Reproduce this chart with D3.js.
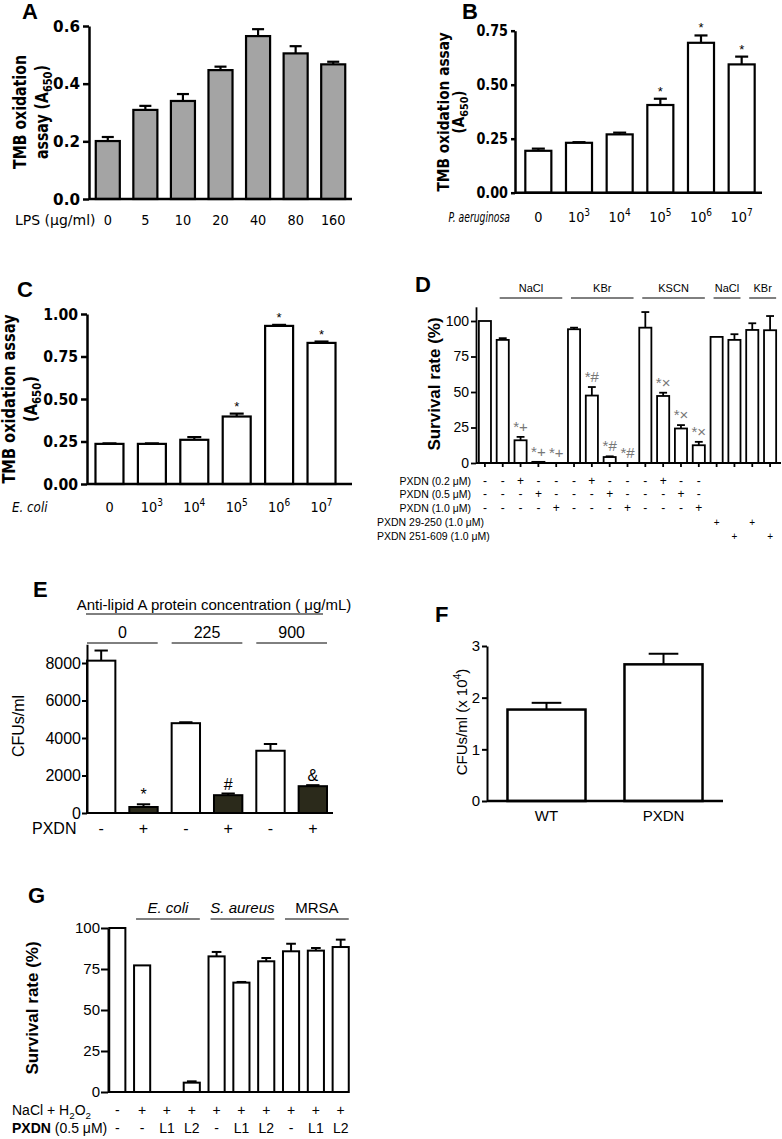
<!DOCTYPE html>
<html><head><meta charset="utf-8">
<script src="https://cdn.jsdelivr.net/npm/d3@7"></script>
<style>body{margin:0;background:#fff}svg{display:block}</style>
</head><body>
<svg id="fig" width="782" height="1139"></svg>
<script>
// ---------------- DATA ----------------
// Panel A
const catsA = ["0","5","10","20","40","80","160"];
const valsA = [0.201,0.309,0.340,0.447,0.565,0.505,0.467];
const errsA = [0.014,0.014,0.024,0.012,0.024,0.025,0.009];
const ticksA = [0,0.2,0.4,0.6];
// Panel B
const catsB = ["0","3","4","5","6","7"]; // exponents (0 = none)
const valsB = [0.194,0.231,0.270,0.406,0.694,0.594];
const errsB = [0.010,0.003,0.008,0.029,0.034,0.036];
const starsB = ["","","","*","*","*"];
const ticksB = [0,0.25,0.5,0.75];
// Panel C
const catsC = ["0","3","4","5","6","7"];
const valsC = [0.236,0.236,0.260,0.397,0.930,0.830];
const errsC = [0.003,0.003,0.016,0.017,0.006,0.008];
const starsC = ["","","","*","*","*"];
const ticksC = [0,0.25,0.5,0.75,1.0];
// Panel D
const catsD = ["Ctrl","NaCl","NaCl+P0.2","NaCl+P0.5","NaCl+P1.0","KBr","KBr+P0.2","KBr+P0.5","KBr+P1.0",
  "KSCN","KSCN+P0.2","KSCN+P0.5","KSCN+P1.0","NaCl+P29","NaCl+P251","KBr+P29","KBr+P251"];
const valsD = [100,86.7,16,0.8,0,94.2,47.5,4.2,0,95.3,47.2,24.3,12.5,88.8,86.7,93.7,93.5];
const errsD = [0,1.2,2.4,0,0,1.1,6.0,0.5,0,11,2.3,2.4,2.4,0,4,4.7,10];
const notesD = ["","","*+","*+","*+","","*#","*#","*#","","*×","*×","*×","","","",""];
const ticksD = [0,25,50,75,100];
const saltsD = [{label:"NaCl",from:1,to:4},{label:"KBr",from:5,to:8},{label:"KSCN",from:9,to:12},{label:"NaCl",from:13,to:14},{label:"KBr",from:15,to:16}];
const rowLabelsD = ["PXDN (0.2 μM)","PXDN (0.5 μM)","PXDN (1.0 μM)","PXDN 29-250 (1.0 μM)","PXDN 251-609 (1.0 μM)"];
const rowsD = [
  ["-","-","+","-","-","-","+","-","-","-","+","-","-","","","",""],
  ["-","-","-","+","-","-","-","+","-","-","-","+","-","","","",""],
  ["-","-","-","-","+","-","-","-","+","-","-","-","+","","","",""],
  ["","","","","","","","","","","","","","+","","+",""],
  ["","","","","","","","","","","","","","","+","","+"]
];
// Panel E
const catsE = ["0 -","0 +","225 -","225 +","900 -","900 +"];
const pxdnE = ["-","+","-","+","-","+"];
const valsE = [8125,320,4790,950,3320,1430];
const errsE = [540,145,50,90,360,55];
const notesE = ["","*","","#","","&"];
const concE = ["0","225","900"];
const ticksE = [0,2000,4000,6000,8000];
// Panel F
const catsF = ["WT","PXDN"];
const valsF = [1.77,2.645];
const errsF = [0.13,0.205];
const ticksF = [0,1,2,3];
// Panel G
const catsG = ["ctrl","Ec-","EcL1","EcL2","Sa-","SaL1","SaL2","MR-","MRL1","MRL2"];
const valsG = [100,77.2,0,5.7,82.7,66.7,79.7,85.8,86.2,88.4];
const errsG = [0,0,0,0.8,2.7,0.4,2,4.6,1.6,4.5];
const naclG = ["-","+","+","+","+","+","+","+","+","+"];
const pxdnG = ["-","-","L1","L2","-","L1","L2","-","L1","L2"];
const groupsG = [{label:"E. coli",from:1,to:3,italic:true},{label:"S. aureus",from:4,to:6,italic:true},{label:"MRSA",from:7,to:9,italic:false}];
const ticksG = [0,25,50,75,100];

// ---------------- HELPERS ----------------
const VERD = "'DejaVu Sans', Verdana, sans-serif";
const ARIAL = "'Liberation Sans', Arial, sans-serif";
const svg = d3.select("#fig");

function txt(g, x, y, parts, o={}) {
  const t = g.append("text")
    .attr("transform", `translate(${x},${y})` + (o.rot ? ` rotate(${o.rot})` : "") + (o.sx && o.sx !== 1 ? ` scale(${o.sx},1)` : ""))
    .attr("text-anchor", o.anchor || "middle")
    .attr("font-family", o.family || ARIAL)
    .attr("font-size", o.size || 14)
    .attr("font-weight", o.weight || "normal")
    .attr("font-style", o.style || "normal")
    .attr("fill", o.fill || "#000");
  if (typeof parts === "string") parts = [{t: parts}];
  parts.forEach(p => {
    const s = t.append("tspan").text(p.t);
    if (p.sup) s.attr("font-size", (o.size||14)*0.7).attr("dy", -(o.size||14)*0.4);
    if (p.sub) s.attr("font-size", (o.size||14)*0.7).attr("dy", (o.size||14)*0.25);
    if (p.back) s.attr("dy", p.back);
    if (p.weight) s.attr("font-weight", p.weight);
    if (p.style) s.attr("font-style", p.style);
  });
  return t;
}
function line(g, x1, y1, x2, y2, w=1, c="#000") {
  g.append("line").attr("x1",x1).attr("y1",y1).attr("x2",x2).attr("y2",y2).attr("stroke",c).attr("stroke-width",w);
}
function yAxis(g, y, o) {
  const pad = o.pad == null ? 3 : o.pad;
  const ax = g.append("g").attr("transform", `translate(${o.x},0)`)
    .call(d3.axisLeft(y).tickValues(o.ticks).tickFormat(o.fmt).tickSize(o.tickLen).tickSizeOuter(0).tickPadding(pad));
  ax.select(".domain").attr("stroke", "#000").attr("stroke-width", o.sw);
  ax.selectAll(".tick line").attr("stroke", "#000").attr("stroke-width", o.sw);
  ax.selectAll(".tick text").attr("font-family", o.font).attr("font-size", o.size)
    .attr("font-weight", o.weight || "normal").attr("fill", "#000")
    .attr("x", null).attr("transform", `translate(${-(o.tickLen + pad)},0) scale(${o.sx || 1},1)`);
  return ax;
}
function bars(g, x, y, cats, vals, errs, o) {
  const bw = x.bandwidth();
  g.append("g").selectAll("rect").data(vals).join("rect")
    .attr("x", (d,i) => x(cats[i])).attr("width", bw)
    .attr("y", d => y(d)).attr("height", d => y(0) - y(d))
    .attr("fill", (d,i) => typeof o.fill === "function" ? o.fill(i) : o.fill)
    .attr("stroke", "#000").attr("stroke-width", o.sw);
  vals.forEach((v,i) => {
    const e = errs[i]; if (!e) return;
    const cx = x(cats[i]) + bw/2, cw = bw * o.cap / 2;
    line(g, cx, y(v), cx, y(v+e), o.esw || o.sw);
    line(g, cx - cw, y(v+e), cx + cw, y(v+e), o.esw || o.sw);
  });
}
const cx = (x, c) => x(c) + x.bandwidth()/2;

// ---------------- PANEL A ----------------
{
  const g = svg.append("g");
  const x = d3.scaleBand(catsA, [89, 352]).paddingInner(0.36).paddingOuter(0.18);
  const y = d3.scaleLinear([0, 0.6], [199, 26]);
  bars(g, x, y, catsA, valsA, errsA, {fill:"#a4a4a4", sw:2.2, cap:0.5});
  yAxis(g, y, {x:89, ticks:ticksA, fmt:d3.format(".1f"), tickLen:6, sw:2.5, font:VERD, size:16, weight:"bold", sx:0.95});
  line(g, 89, y(0), 352, y(0), 2.5);
  txt(g, 22, 19, "A", {anchor:"start", size:22, weight:"bold"});
  txt(g, 26, 112, "TMB oxidation", {rot:-90, size:17, weight:"bold", family:VERD, sx:0.83});
  txt(g, 48, 112, [{t:"assay (A"},{t:"650",sub:true},{t:")",back:-17*0.25}], {rot:-90, size:17, weight:"bold", family:VERD, sx:0.83});
  txt(g, 15, 225, "LPS (μg/ml)", {anchor:"start", size:14, family:VERD});
  catsA.forEach(c => txt(g, cx(x,c), 225, c, {size:14, family:VERD, sx:0.92}));
}

// ---------------- PANEL B ----------------
{
  const g = svg.append("g");
  const x = d3.scaleBand(catsB, [518, 762]).paddingInner(0.36).paddingOuter(0.18);
  const y = d3.scaleLinear([0, 0.75], [192.7, 30.7]);
  bars(g, x, y, catsB, valsB, errsB, {fill:"#fff", sw:2.2, cap:0.5});
  yAxis(g, y, {x:515, ticks:ticksB, fmt:d3.format(".2f"), tickLen:4, sw:2.5, font:VERD, size:16, weight:"bold", sx:0.8});
  line(g, 515, y(0), 762, y(0), 2.5);
  starsB.forEach((s,i) => { if (s) txt(g, cx(x,catsB[i]), y(valsB[i]+errsB[i]) - 3, s, {size:13}); });
  txt(g, 462, 19, "B", {anchor:"start", size:22, weight:"bold"});
  txt(g, 449, 112, "TMB oxidation assay", {rot:-90, size:16, weight:"bold", family:VERD, sx:0.86});
  txt(g, 464, 112, [{t:"(A"},{t:"650",sub:true},{t:")",back:-16*0.25}], {rot:-90, size:16, weight:"bold", family:VERD, sx:0.86});
  txt(g, 510, 222, "P. aeruginosa", {anchor:"end", size:14, family:VERD, style:"italic", sx:0.66});
  catsB.forEach(c => txt(g, cx(x,c), 222, c === "0" ? "0" : [{t:"10"},{t:c,sup:true}], {size:14, family:VERD, sx:0.92}));
}

// ---------------- PANEL C ----------------
{
  const g = svg.append("g");
  const x = d3.scaleBand(catsC, [87, 344]).paddingInner(0.34).paddingOuter(0.2);
  const y = d3.scaleLinear([0, 1], [484, 314]);
  bars(g, x, y, catsC, valsC, errsC, {fill:"#fff", sw:2.2, cap:0.5});
  yAxis(g, y, {x:87, ticks:ticksC, fmt:d3.format(".2f"), tickLen:6, sw:2.5, font:VERD, size:16, weight:"bold", sx:0.88});
  line(g, 87, y(0), 352, y(0), 2.5);
  starsC.forEach((s,i) => { if (s) txt(g, cx(x,catsC[i]), y(valsC[i]+errsC[i]) - 3, s, {size:13}); });
  txt(g, 17, 297, "C", {anchor:"start", size:22, weight:"bold"});
  txt(g, 15, 399, "TMB oxidation assay", {rot:-90, size:17, weight:"bold", family:VERD, sx:0.86});
  txt(g, 37, 399, [{t:"(A"},{t:"650",sub:true},{t:")",back:-17*0.25}], {rot:-90, size:17, weight:"bold", family:VERD, sx:0.86});
  txt(g, 12, 512, "E. coli", {anchor:"start", size:14, family:VERD, style:"italic", sx:0.85});
  catsC.forEach(c => txt(g, cx(x,c), 512, c === "0" ? "0" : [{t:"10"},{t:c,sup:true}], {size:14, family:VERD, sx:0.92}));
}

// ---------------- PANEL D ----------------
{
  const g = svg.append("g");
  const x = d3.scaleBand(catsD, [476, 779]).paddingInner(0.32).paddingOuter(0.16);
  const y = d3.scaleLinear([0, 110], [463, 306.8]);
  bars(g, x, y, catsD, valsD, errsD, {fill:"#fff", sw:1.8, cap:0.65});
  yAxis(g, y, {x:476, ticks:ticksD, fmt:d3.format("d"), tickLen:5, sw:1.8, font:ARIAL, size:14, pad:2});
  const xa = g.append("g").attr("transform", `translate(0,${y(0)})`)
    .call(d3.axisBottom(x).tickSize(4).tickFormat(""));
  xa.select(".domain").remove();
  xa.selectAll(".tick line").attr("stroke","#000").attr("stroke-width",1.8);
  line(g, 476, y(0), 781, y(0), 1.8);
  notesD.forEach((s,i) => { if (s) txt(g, cx(x,catsD[i]), y(valsD[i]+errsD[i]) - 5, s, {size:15, fill:"#777"}); });
  txt(g, 415, 292, "D", {anchor:"start", size:22, weight:"bold"});
  txt(g, 440, 384, "Survival rate (%)", {rot:-90, size:17, weight:"bold"});
  saltsD.forEach(s => {
    const a = x(catsD[s.from]) + 3, b = x(catsD[s.to]) + x.bandwidth();
    txt(g, (a+b)/2, 292, s.label, {size:11});
    line(g, a, 298, b, 298, 1);
  });
  const rowY = [485, 498, 512, 526, 540];
  rowLabelsD.forEach((l,r) => {
    if (r < 3) txt(g, 471, rowY[r], l, {anchor:"end", size:10.5});
    else txt(g, 377, rowY[r], l, {anchor:"start", size:10.5});
    rowsD[r].forEach((s,i) => { if (s) txt(g, cx(x,catsD[i]), rowY[r], s, {size: r < 3 ? 12 : 10}); });
  });
}

// ---------------- PANEL E ----------------
{
  const g = svg.append("g");
  const x = d3.scaleBand(catsE, [87, 327]).paddingInner(0.33).paddingOuter(0);
  const y = d3.scaleLinear([0, 9000], [813, 644.25]);
  bars(g, x, y, catsE, valsE, errsE, {fill: i => i % 2 ? "#2b2a1b" : "#fff", sw:2, cap:0.47});
  yAxis(g, y, {x:87, ticks:ticksE, fmt:d3.format("d"), tickLen:5, sw:2, font:ARIAL, size:16, pad:1});
  line(g, 87, y(0), 333, y(0), 2);
  notesE.forEach((s,i) => { if (s) txt(g, cx(x,catsE[i]), y(valsE[i]+errsE[i]) - 4, s, {size:16}); });
  txt(g, 33, 597, "E", {anchor:"start", size:22, weight:"bold"});
  txt(g, 24, 726, "CFUs/ml", {rot:-90, size:16});
  txt(g, 214, 610, [{t:"Anti-lipid A protein concentration ( "},{t:"μ"}, {t:"g/mL)"}], {size:15});
  line(g, 86, 614, 323, 614, 1);
  concE.forEach((c,k) => {
    const a = x(catsE[2*k]), b = x(catsE[2*k+1]) + x.bandwidth();
    txt(g, (a+b)/2, 638, c, {size:16});
    line(g, a, 643, b, 643, 1);
  });
  txt(g, 32, 834, "PXDN", {anchor:"start", size:16});
  pxdnE.forEach((s,i) => txt(g, cx(x,catsE[i]), 834, s, {size:16}));
}

// ---------------- PANEL F ----------------
{
  const g = svg.append("g");
  const x = d3.scaleBand(catsF, [487, 723]).paddingInner(0.333).paddingOuter(0.175);
  const y = d3.scaleLinear([0, 3], [801, 646]);
  bars(g, x, y, catsF, valsF, errsF, {fill:"#fff", sw:2.5, cap:0.38, esw:2});
  yAxis(g, y, {x:487, ticks:ticksF, fmt:d3.format("d"), tickLen:5, sw:2, font:ARIAL, size:15, pad:2});
  line(g, 487, y(0), 723, y(0), 2.5);
  txt(g, 435, 622, "F", {anchor:"start", size:22, weight:"bold"});
  txt(g, 467, 722, [{t:"CFUs/ml (x 10"},{t:"4",sup:true},{t:")",back:15*0.4}], {rot:-90, size:15});
  catsF.forEach(c => txt(g, cx(x,c), 821, c, {size:15}));
}

// ---------------- PANEL G ----------------
{
  const g = svg.append("g");
  const x = d3.scaleBand(catsG, [108, 350]).paddingInner(0.35).paddingOuter(0.05);
  const y = d3.scaleLinear([0, 100], [1092, 928]);
  bars(g, x, y, catsG, valsG, errsG, {fill:"#fff", sw:2, cap:0.6});
  yAxis(g, y, {x:108, ticks:ticksG, fmt:d3.format("d"), tickLen:7, sw:2, font:ARIAL, size:15, pad:1});
  line(g, 108, y(0), 347, y(0), 2);
  txt(g, 28, 903, "G", {anchor:"start", size:22, weight:"bold"});
  txt(g, 38, 1008, "Survival rate (%)", {rot:-90, size:17, weight:"bold"});
  groupsG.forEach(s => {
    const a = x(catsG[s.from]) + 2, b = x(catsG[s.to]) + x.bandwidth();
    txt(g, (a+b)/2, 913, s.label, {size:15, style: s.italic ? "italic" : "normal"});
    line(g, a, 919, b, 919, 1);
  });
  txt(g, 12, 1115, [{t:"NaCl + H"},{t:"2",sub:true},{t:"O",back:-14*0.25},{t:"2",sub:true}], {anchor:"start", size:14});
  txt(g, 12, 1133, [{t:"PXDN",weight:"bold"},{t:" (0.5 μM)"}], {anchor:"start", size:14});
  naclG.forEach((s,i) => txt(g, cx(x,catsG[i]), 1115, s, {size:14}));
  pxdnG.forEach((s,i) => txt(g, cx(x,catsG[i]), 1133, s, {size:14}));
}
</script>
</body></html>
